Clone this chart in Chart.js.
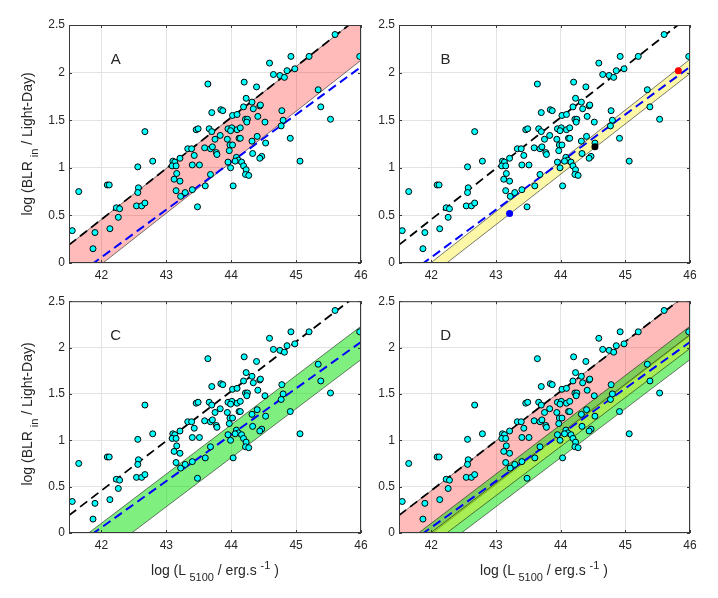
<!DOCTYPE html>
<html>
<head>
<meta charset="utf-8">
<title>BLR radius vs L5100</title>
<script src="https://cdn.jsdelivr.net/npm/chart.js"></script>
<style>
  body { margin: 0; background: #fff; }
  #fig { position: relative; width: 718px; height: 598px; font-family: "Liberation Sans", Arial, sans-serif; color: #262626; }
  #fig canvas { position: absolute; }
  .ytitle { position: absolute; font-size: 14px; white-space: nowrap; transform: translate(-50%, -50%) rotate(-90deg); }
  .xtitle { position: absolute; font-size: 14px; white-space: nowrap; transform: translate(-50%, -50%); }
  .sb { font-size: 11px; position: relative; top: 6px; }
  .sp { font-size: 11px; position: relative; top: -6px; }
</style>
</head>
<body>
<div id="fig">
  <canvas id="chartA" width="380" height="290" style="left:0;top:0;width:380px;height:290px"></canvas>
  <canvas id="chartB" width="359" height="290" style="left:359px;top:0;width:359px;height:290px"></canvas>
  <canvas id="chartC" width="380" height="308" style="left:0;top:290px;width:380px;height:308px"></canvas>
  <canvas id="chartD" width="359" height="308" style="left:359px;top:290px;width:359px;height:308px"></canvas>

  <div class="ytitle" style="left:27px;top:144px">log (BLR <span class="sb">in</span> / Light-Day)</div>
  <div class="ytitle" style="left:27px;top:414px">log (BLR <span class="sb">in</span> / Light-Day)</div>
  <div class="xtitle" style="left:215px;top:570px">log (L <span class="sb">5100</span> / erg.s <span class="sp">-1</span> )</div>
  <div class="xtitle" style="left:544px;top:570px">log (L <span class="sb">5100</span> / erg.s <span class="sp">-1</span> )</div>
</div>

<script>
// sample: log L5100 and log BLR size (same in every panel)
const lumX = [
  41.55, 41.65, 41.87, 41.90, 42.09, 42.12, 42.13, 42.23, 42.28, 42.26,
  42.56, 42.57, 42.56, 42.54, 42.62, 42.67, 42.67, 42.79, 43.10, 43.13,
  43.09, 43.15, 43.21, 43.12, 43.16, 43.21, 43.15, 43.22, 43.29, 43.40,
  43.48, 43.33, 43.39, 43.43, 43.40, 43.51, 43.46, 43.49, 43.59, 43.64,
  43.70, 43.66, 43.70, 43.68, 43.71, 43.77, 43.78, 43.75, 43.68, 43.60,
  43.83, 43.84, 43.87, 43.95, 44.01, 43.99, 44.02, 44.09, 43.94, 43.98,
  44.02, 43.97, 43.95, 43.99, 44.03, 44.09, 44.14, 44.12, 44.14, 44.19,
  44.20, 44.23, 44.22, 44.25, 44.24, 44.32, 44.34, 44.39, 44.41, 44.44,
  44.45, 44.52, 44.40, 44.32, 44.53, 44.33, 44.47, 44.44, 44.08, 44.11,
  44.06, 44.16, 44.19, 44.23, 44.22, 44.27, 44.59, 44.65, 44.75, 44.82,
  44.86, 44.92, 44.98, 45.20, 45.60, 45.98, 45.34, 45.38, 45.53, 44.78,
  44.80, 44.77, 44.91, 45.06
];
const blrY = [
  0.34, 0.75, 0.15, 0.32, 0.82, 0.82, 0.36, 0.58, 0.57, 0.48,
  1.01, 0.79, 0.74, 0.60, 0.60, 0.63, 1.38, 1.07, 1.07, 1.06,
  1.02, 1.02, 1.10, 0.88, 0.94, 0.86, 0.76, 0.70, 0.74, 0.77,
  0.59, 1.20, 1.20, 1.13, 1.03, 1.03, 1.40, 1.41, 1.21, 1.88,
  1.58, 1.41, 1.38, 1.20, 1.22, 1.16, 1.14, 1.30, 0.93, 0.81,
  1.34, 1.61, 1.60, 1.41, 1.42, 1.39, 1.55, 1.56, 1.30, 1.24,
  1.24, 1.18, 1.06, 1.00, 0.81, 1.40, 1.42, 1.31, 1.31, 1.64,
  1.90, 1.73, 1.51, 1.51, 1.48, 1.69, 1.62, 1.85, 1.54, 1.65,
  1.66, 1.48, 1.33, 1.28, 1.26, 1.15, 1.12, 1.10, 1.11, 1.08,
  1.07, 1.06, 1.02, 0.98, 0.93, 0.92, 2.10, 1.98, 1.97, 1.95,
  2.02, 2.17, 2.04, 2.17, 2.40, 2.17, 1.82, 1.64, 1.51, 1.60,
  1.50, 1.44, 1.31, 1.07
];

// highlighted objects in panel B
const specialX = [43.21, 44.53, 45.82];
const specialY = [0.52, 1.22, 2.02];
const specialColors = ['#0000ff', '#000000', '#ff0000'];

// fitted relations, y at the two ends of the x range
const fitX = [41.5, 46];
const blackFit = [0.19, 2.60];
const blueFit = [-0.19, 2.06];
const pinkLow = [-0.28, 2.13];   // pink band: pinkLow .. blackFit
const greenUp = [-0.16, 2.23];
const greenLow = [-0.51, 1.87];
const yellowUp = [-0.26, 2.14];
const yellowLow = [-0.39, 1.99];

const xTicks = [42, 43, 44, 45, 46];
const yTicks = [0, 0.5, 1, 1.5, 2, 2.5];

const edgeColor = 'rgba(0,0,0,0.75)';

function lineSet(ys, color, width, dash, order) {
  return {
    data: fitX.map((x, i) => ({ x: x, y: ys[i] })),
    borderColor: color, borderWidth: width, borderDash: dash,
    pointRadius: 0, fill: false, order: order, clip: 0
  };
}

function bandSets(lo, hi, color, order) {
  const a = lineSet(lo, edgeColor, 0.7, [], order);
  const b = lineSet(hi, edgeColor, 0.7, [], order);
  b.fill = '-1';
  b.backgroundColor = color;
  return [a, b];
}

// inner frame + small inward ticks, like the original figure
const framePlugin = {
  id: 'frame',
  afterDatasetsDraw(chart) {
    const { ctx, chartArea: a, scales } = chart;
    ctx.save();
    ctx.strokeStyle = '#3a3a3a';
    ctx.lineWidth = 1;
    ctx.strokeRect(a.left + 0.5, a.top + 0.5, a.right - a.left - 1, a.bottom - a.top - 1);
    ctx.beginPath();
    xTicks.forEach(v => {
      const px = Math.round(scales.x.getPixelForValue(v)) + 0.5;
      ctx.moveTo(px, a.bottom); ctx.lineTo(px, a.bottom - 3);
      ctx.moveTo(px, a.top); ctx.lineTo(px, a.top + 3);
    });
    yTicks.forEach(v => {
      const py = Math.round(scales.y.getPixelForValue(v)) + 0.5;
      ctx.moveTo(a.left, py); ctx.lineTo(a.left + 3, py);
      ctx.moveTo(a.right, py); ctx.lineTo(a.right - 3, py);
    });
    ctx.stroke();
    // panel letter
    const lab = chart.options.plugins.frame.label;
    ctx.fillStyle = '#262626';
    ctx.font = '15px "Liberation Sans", Arial, sans-serif';
    ctx.textAlign = 'center';
    ctx.textBaseline = 'middle';
    ctx.fillText(lab, scales.x.getPixelForValue(42.22), scales.y.getPixelForValue(2.13));
    ctx.restore();
  }
};

function makePanel(id, label, bands, special, layout) {
  let datasets = [];
  const points = {
    data: lumX.map((x, i) => ({ x: x, y: blrY[i] })),
    showLine: false, pointRadius: 3.0, pointBorderWidth: 1,
    pointBackgroundColor: '#00ffff', pointBorderColor: '#000000', order: 0
  };
  datasets.push(points);
  if (special) {
    datasets.push({
      data: specialX.map((x, i) => ({ x: x, y: specialY[i] })),
      showLine: false, pointRadius: 3.5, pointBorderWidth: 0,
      pointBackgroundColor: specialColors, pointBorderColor: specialColors, order: -1
    });
  }
  datasets.push(lineSet(blueFit, '#0000ff', 2, [9, 5], 1));
  datasets.push(lineSet(blackFit, '#000000', 1.8, [9, 5], 1));
  if (bands.includes('pink')) datasets = datasets.concat(bandSets(pinkLow, blackFit, 'rgba(255,0,0,0.27)', 7));
  if (bands.includes('green')) datasets = datasets.concat(bandSets(greenLow, greenUp, 'rgba(0,225,0,0.5)', 5));
  if (bands.includes('yellow')) datasets = datasets.concat(bandSets(yellowLow, yellowUp, 'rgba(245,235,0,0.34)', 3));

  const tickFont = { family: '"Liberation Sans", Arial, sans-serif', size: 12 };

  new Chart(document.getElementById(id), {
    type: 'line',
    data: { datasets: datasets },
    options: {
      responsive: false,
      animation: false,
      events: [],
      layout: { padding: { top: layout.top, right: layout.right, left: 0, bottom: 0 } },
      plugins: {
        legend: { display: false },
        tooltip: { enabled: false },
        frame: { label: label }
      },
      scales: {
        x: {
          type: 'linear', min: 41.5, max: 46,
          afterBuildTicks: s => { s.ticks = xTicks.map(v => ({ value: v })); },
          afterFit: s => { s.height = layout.xh; },
          ticks: { color: '#262626', font: tickFont, padding: 5, maxRotation: 0, callback: v => String(v) },
          grid: { color: '#e3e3e3', drawTicks: false },
          border: { display: false }
        },
        y: {
          type: 'linear', min: 0, max: 2.5,
          afterBuildTicks: s => { s.ticks = yTicks.map(v => ({ value: v })); },
          afterFit: s => { s.width = layout.yw; },
          ticks: { color: '#262626', font: tickFont, padding: 4, callback: v => String(v) },
          grid: { color: '#e3e3e3', drawTicks: false },
          border: { display: false }
        }
      }
    },
    plugins: [framePlugin]
  });
}

makePanel('chartA', 'A', ['pink'], false, { top: 25, right: 19, xh: 27, yw: 69 });
makePanel('chartB', 'B', ['yellow'], true, { top: 25, right: 28, xh: 27, yw: 40 });
makePanel('chartC', 'C', ['green'], false, { top: 5, right: 19, xh: 65, yw: 69 });
makePanel('chartD', 'D', ['pink', 'green', 'yellow'], false, { top: 5, right: 28, xh: 65, yw: 40 });
</script>
</body>
</html>
